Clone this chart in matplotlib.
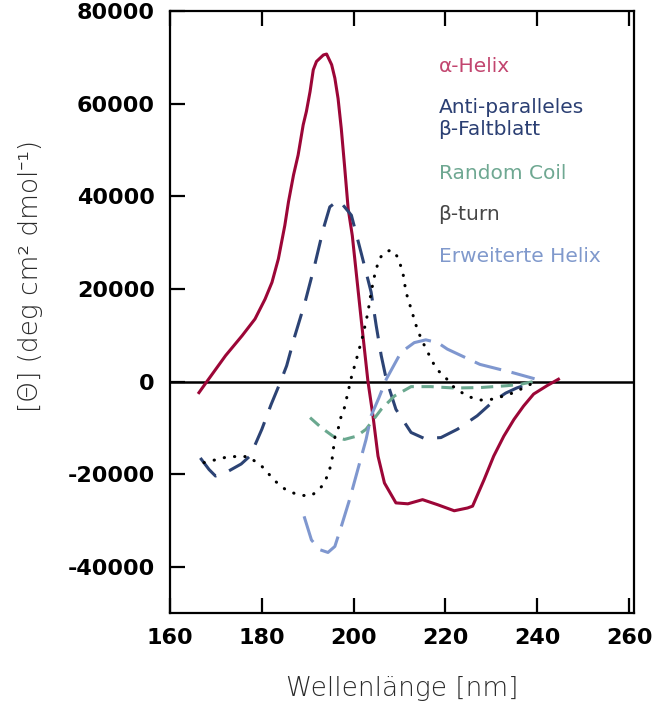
import matplotlib.pyplot as plt

plt.rcParams['axes.unicode_minus'] = False

# CD spectra of typical protein secondary structures
helix_x = [166.3, 168.1, 172.1, 175.7, 178.5, 180.7, 182.2, 183.6, 185.0, 185.8, 186.9, 187.9,
           189.0, 189.7, 190.5, 191.2, 191.9, 193.4, 194.1, 195.2, 195.9, 196.6, 197.3, 198.0,
           198.8, 199.7, 201.7, 203.1, 204.2, 205.3, 206.7, 209.2, 211.8, 215.0, 218.3, 221.9,
           224.8, 225.9, 228.4, 230.5, 232.7, 234.9, 237.0, 239.2, 242.1, 244.6]
helix_y = [-2400, 100, 5600, 9900, 13500, 17800, 21400, 26500, 33700, 38800, 44600, 48900,
           55400, 58300, 62600, 67300, 69100, 70500, 70700, 68400, 65500, 61100, 54600, 46700,
           37300, 31500, 12800, 100, -7400, -16100, -21900, -26200, -26400, -25500, -26600, -27900,
           -27300, -26900, -21200, -16100, -11800, -8200, -5300, -2700, -900, 500]

sheet_x = [166.6, 168.5, 169.9, 172.8, 175.5, 177.5, 180.0, 182.0, 184.0, 185.4, 187.2, 189.4,
           191.5, 193.4, 194.8, 196.6, 197.0, 199.5, 201.7, 203.8, 204.9, 206.0, 207.1, 209.2,
           212.5, 215.4, 219.0, 222.6, 226.9, 230.5, 233.1, 235.5, 237.8]
sheet_y = [-16500, -19000, -20400, -19300, -17800, -16000, -10300, -5000, -200, 3400, 9900, 17100,
           25100, 33000, 37700, 39100, 38900, 35900, 27500, 19300, 12100, 5600, 500, -6000,
           -11000, -12300, -12100, -10300, -7400, -4200, -2500, -1400, -600]

coil_x = [190.5, 193.0, 195.5, 198.0, 200.6, 202.7, 206.0, 208.9, 212.5, 216.8, 221.9, 227.6,
          233.4, 236.3, 239.2]
coil_y = [-7800, -10000, -11800, -12500, -11800, -10300, -6000, -3100, -1100, -1100, -1400, -1300,
          -900, -600, 0]

turn_x = [167.4, 172.8, 177.1, 180.0, 182.9, 185.0, 187.2, 189.0, 190.8, 192.3, 193.4, 194.4,
          195.2, 195.9, 196.6, 197.3, 198.0, 199.5, 200.6, 202.0, 203.1, 203.8, 204.7, 205.6,
          206.7, 208.2, 209.6, 210.7, 211.4, 212.5, 213.6, 214.7, 216.5, 218.0, 219.7, 221.9,
          224.8, 227.6, 230.5, 234.9, 238.5]
turn_y = [-17500, -16200, -16200, -18300, -21500, -23200, -24200, -24600, -24600, -23500, -22200, -20100,
          -17500, -12100, -10300, -7400, -5600, 900, 4800, 9900, 14900, 19300, 23600, 26500,
          27900, 28400, 26900, 23600, 19300, 15700, 12100, 9200, 5600, 2700, 1200, -1300,
          -3200, -4000, -3800, -2400, -600]

ext_x = [189.2, 190.8, 192.6, 194.4, 195.9, 197.3, 199.1, 200.9, 202.7, 203.8, 205.5, 207.1,
         210.3, 213.2, 215.7, 218.3, 220.4, 227.5, 234.7, 239.4]
ext_y = [-29100, -34200, -36300, -36900, -35600, -31300, -25500, -19000, -12500, -7400, -3500, 500,
         6300, 8400, 9000, 8400, 7000, 3700, 1900, 600]

labels = ["α-Helix", "Anti-paralleles\nβ-Faltblatt", "Random Coil", "β-turn", "Erweiterte Helix"]
label_y = [68000, 56800, 45000, 36000, 27100]
label_colors = ["#c2456f", "#2b3f73", "#6fa892", "#474747", "#8099cc"]

fig = plt.figure(figsize=(6.54, 7.08), dpi=100)
ax = fig.add_axes([0.26, 0.134, 0.709, 0.8505])

ax.axhline(0, color="black", lw=1.8, zorder=1)

ax.plot(helix_x, helix_y, color="#9c0637", lw=2.2, solid_joinstyle="round")
ax.plot(sheet_x, sheet_y, color="#2c4374", lw=2.2, dashes=(8, 4.5))
ax.plot(coil_x, coil_y, color="#6aa88f", lw=2.2, dashes=(4, 2.5))
ax.plot(turn_x, turn_y, color="black", lw=2.2, dashes=(0.1, 3.3), dash_capstyle="round")
ax.plot(ext_x, ext_y, color="#7f97cf", lw=2.2, dashes=(9, 3.5))

for text, y, c in zip(labels, label_y, label_colors):
    ax.text(218.5, y, text, color=c, fontsize=14.5, va="center", ha="left", linespacing=1.2)

ax.set_xlim(160, 261)
ax.set_ylim(-50000, 80000)
ax.set_xticks([160, 180, 200, 220, 240, 260])
ax.set_yticks([-40000, -20000, 0, 20000, 40000, 60000, 80000])

ax.tick_params(axis="x", direction="in", length=11, width=1.6, top=True, pad=11, labelsize=16)
ax.tick_params(axis="y", direction="in", length=11, width=1.6, right=False, pad=11, labelsize=16)
for lab in ax.get_xticklabels() + ax.get_yticklabels():
    lab.set_fontweight("bold")
for sp in ax.spines.values():
    sp.set_linewidth(1.6)

ax.set_xlabel("Wellenlänge [nm]", fontsize=19, color="#2a2a2a", fontweight="light", labelpad=20)
ax.set_ylabel("[Θ] (deg cm² dmol⁻¹)", fontsize=19, color="#2a2a2a", fontweight="light",
              family=["DejaVu Sans", "Noto Sans"])
ax.yaxis.set_label_coords(-0.275, 0.56)

fig.savefig("out.png", dpi=100)
